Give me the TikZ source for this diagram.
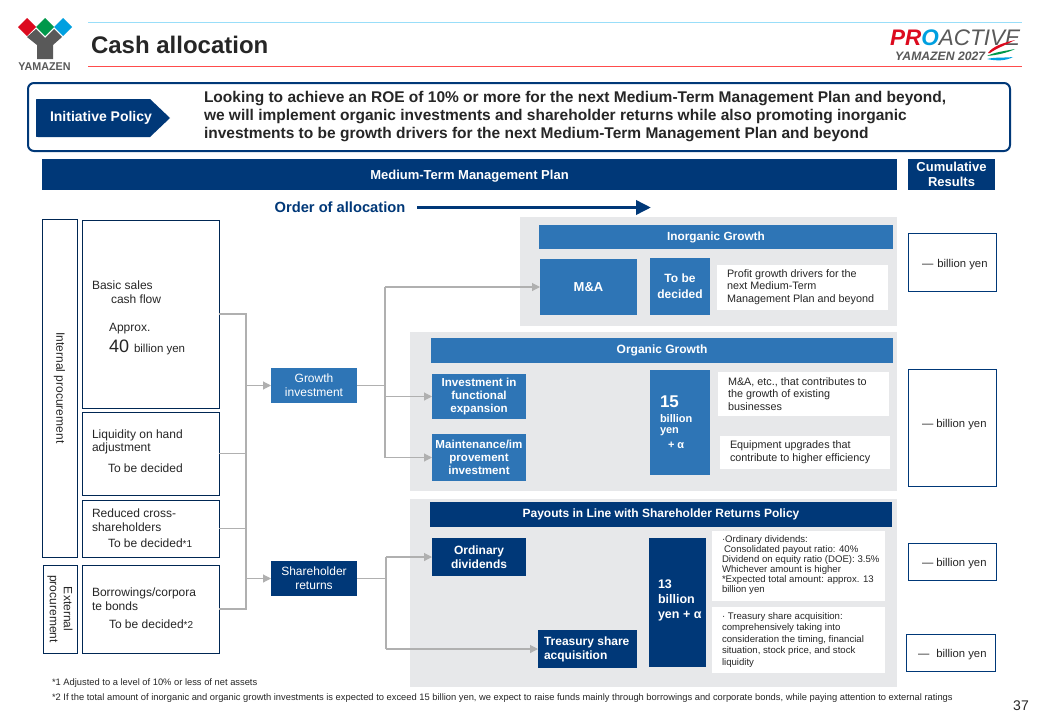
\documentclass[tikz,border=0pt]{standalone}
\usepackage{fontspec}
\setmainfont{Liberation Sans}
\usepackage{tikz}
\usetikzlibrary{arrows.meta}
\definecolor{navy}{HTML}{003878}
\definecolor{midblue}{HTML}{2E75B6}
\definecolor{panelgray}{HTML}{E7E8EA}
\definecolor{linegray}{HTML}{B0B0B0}
\definecolor{inkgray}{HTML}{262626}
\definecolor{logored}{HTML}{DC0A1E}
\definecolor{logogreen}{HTML}{00984A}
\definecolor{logoblue}{HTML}{00A0E0}
\definecolor{logogray}{HTML}{595959}
\newcommand{\fs}[2]{\fontsize{#1}{#2}\selectfont}
\tikzset{
	block/.style 2 args={rectangle,inner sep=0pt,outer sep=0pt,minimum width=#1,minimum height=#2,align=center},
	panel/.style 2 args={block={#1}{#2},fill=panelgray},
	navybox/.style 2 args={block={#1}{#2},fill=navy,text=white},
	bluebox/.style 2 args={block={#1}{#2},fill=midblue,text=white},
	whitebox/.style 2 args={block={#1}{#2},fill=white},
	srcbox/.style 2 args={block={#1}{#2},draw=navy!70!black,line width=0.8pt,fill=white,text=inkgray},
	sumbox/.style 2 args={block={#1}{#2},draw=navy,line width=0.8pt,fill=white},
	label/.style={inner sep=0pt,outer sep=0pt,align=left,anchor=west,text=inkgray},
	whitelabel/.style={label,text=white},
	turned/.style={rotate=-90,inner sep=0pt,align=center,text=inkgray},
	link/.style={draw=linegray,line width=1.1pt},
	linkarrow/.style={link,-{Triangle[length=8pt,width=8pt,fill=linegray]}}
}

\begin{document}
\begin{tikzpicture}[x=1pt,y=-1pt]
	\useasboundingbox (0,0) rectangle (1040,720);
	\fill[white] (0,0) rectangle (1040,720);

	\fill[logored] (27,18) -- (36,27) -- (27,36) -- (18,27) -- cycle;
	\fill[logogreen] (45,18) -- (54,27) -- (45,36) -- (36,27) -- cycle;
	\fill[logoblue] (63,18) -- (72,27) -- (63,36) -- (54,27) -- cycle;
	\fill[logogray] (27,37) -- (36,29) -- (45,38) -- (54,29) -- (62,37) -- (53,45) -- (53,59) -- (37,59) -- (37,45) -- cycle;
	\node[inner sep=0pt,text=logogray,font=\fs{11.3}{12}\addfontfeature{FakeStretch=0.95}\bfseries] (brand) at (44.5,66.5) {YAMAZEN};

	\draw[cyan!40!white,line width=1pt] (88,22) -- (1022,22);
	\draw[red!70!white,line width=0.8pt] (88,66) -- (1022,66);
	\node[label,font=\fs{24}{26}\bfseries] (title) at (91,45) {Cash allocation};

	\node[inner sep=0pt,anchor=west,font=\fs{22.5}{24}\bfseries\itshape] (proactive) at (890,37.5) {\textcolor{logored}{PR}\textcolor{logoblue}{O}\textcolor{logogray}{\mdseries ACTIVE}};
	\node[inner sep=0pt,anchor=west,text=logogray,font=\fs{12.2}{13}\bfseries\itshape] (proyear) at (895,56.5) {YAMAZEN 2027};
	\fill[logored] (988,53) .. controls (993,46) and (1003,43) .. (1015,40) .. controls (1006,45) and (997,48) .. (990,53) -- cycle;
	\fill[logogreen] (987,56) .. controls (995,52) and (1005,51) .. (1015,49) .. controls (1007,53) and (997,55) .. (987,56) -- cycle;
	\fill[logoblue] (987,59) .. controls (995,57) and (1004,58) .. (1013,57) .. controls (1006,61) and (996,61) .. (987,59) -- cycle;

	\draw[navy,line width=2pt,rounded corners=6pt] (28,83) rectangle (1010,151);
	\fill[navy] (38,99) -- (150,99) -- (170,118) -- (150,137) -- (38,137) .. controls (36,137) .. (36,135) -- (36,101) .. controls (36,99) .. (38,99) -- cycle;
	\node[text=white,inner sep=0pt,font=\fs{14}{16}\bfseries] (policytag) at (101,118) {Initiative Policy};
	\node[label,font=\fs{15.5}{18}\bfseries] (policy) at (204,117) {Looking to achieve an ROE of 10\% or more for the next Medium-Term Management Plan and beyond,\\we will implement organic investments and shareholder returns while also promoting inorganic\\investments to be growth drivers for the next Medium-Term Management Plan and beyond};

	\node[navybox={855pt}{31pt},font=\fs{13}{15}\bfseries,text height=12pt,text depth=3pt] (planbar) at (469.5,174.5) {Medium-Term Management Plan};
	\node[navybox={87pt}{31pt},font=\fs{13}{15}\bfseries] (resultbar) at (951.5,174.5) {Cumulative\\Results};

	\node[inner sep=0pt,text=navy,font=\fs{14.7}{16}\bfseries] (order) at (340,207) {Order of allocation};
	\coordinate (orderstart) at (417,207.5);
	\coordinate (orderend) at (651,207.5);
	\draw[navy,line width=3.5pt,-{Triangle[length=15pt,width=14pt]}] (orderstart) -- (orderend);

	\node[srcbox={35pt}{338pt}] (internal) at (59.5,388) {};
	\node[turned,font=\fs{12}{14}] at (internal) {Internal procurement};
	\node[srcbox={34pt}{88pt}] (external) at (60,609) {};
	\node[turned,font=\fs{12}{14}] at (external) {External\\procurement};

	\node[srcbox={137pt}{188pt}] (basic) at (150.5,314) {};
	\node[label,font=\fs{12}{14}] at (92,285.5) {Basic sales};
	\node[label,font=\fs{12}{14}] at (111,299.5) {cash flow};
	\node[label,font=\fs{12}{14}] at (109,329) {Approx.};
	\node[label,font=\fs{18}{20}] at (109,347) {40 \fs{11.5}{14}billion yen};
	\node[srcbox={137pt}{83pt}] (liquidity) at (150.5,453.5) {};
	\node[label,font=\fs{12}{13}] at (92,441.5) {Liquidity on hand\\adjustment};
	\node[label,font=\fs{12}{14}] at (108,468.5) {To be decided};
	\node[srcbox={137pt}{57pt}] (crossheld) at (150.5,528.5) {};
	\node[label,font=\fs{12}{14}] at (92,520.5) {Reduced cross-\\shareholders};
	\node[label,font=\fs{12}{14}] at (108,543.5) {To be decided\fs{10}{14}*1};
	\node[srcbox={137pt}{88pt}] (borrowing) at (150.5,609) {};
	\node[label,font=\fs{12}{13.5}] at (92,599) {Borrowings/corpora\\te bonds};
	\node[label,font=\fs{12}{14}] at (109,624.5) {To be decided\fs{10}{14}*2};

	\node[panel={377pt}{109pt}] (inorganic) at (708.5,271.5) {};
	\node[panel={487pt}{159pt}] (organic) at (653.5,411.5) {};
	\node[panel={487pt}{188pt}] (payout) at (653.5,593) {};

	\node[bluebox={86pt}{35pt},font=\fs{12}{14}] (growth) at (314,385.5) {Growth\\investment};
	\node[navybox={86pt}{35pt},font=\fs{12}{14}] (returns) at (314,578.5) {Shareholder\\returns};

	\node[bluebox={354pt}{24pt},font=\fs{11.8}{13}\bfseries] (inorganichead) at (716,237) {Inorganic Growth};
	\node[bluebox={97pt}{56pt},font=\fs{13}{15}\bfseries] (mna) at (588.5,287) {M\&A};
	\node[bluebox={60pt}{57pt},font=\fs{12}{16}\bfseries] (tbd) at (680,286.5) {To be\\decided};
	\node[whitebox={171pt}{45pt}] (profit) at (802.5,287.5) {};
	\node[label,font=\fs{10.8}{12.5}] at (727,287) {Profit growth drivers for the\\next Medium-Term\\Management Plan and beyond};
	\node[sumbox={88pt}{58pt}] (suminorganic) at (952,262) {};
	\node[label,font=\fs{11.3}{12}] at (922,265) {—\hspace{4pt}billion yen};

	\node[bluebox={462pt}{25pt},font=\fs{12}{13}\bfseries] (organichead) at (662,350.5) {Organic Growth};
	\node[bluebox={94pt}{45pt},font=\fs{11.6}{13}\bfseries] (functional) at (479,396.5) {Investment in\\functional\\expansion};
	\node[bluebox={94pt}{47pt},font=\fs{11.6}{13}\bfseries] (upkeep) at (479,457.5) {Maintenance/im\\provement\\investment};
	\node[bluebox={60pt}{105pt}] (fifteen) at (680,422.5) {};
	\node[whitelabel,font=\fs{17}{18}\bfseries] at (660,402) {15};
	\node[whitelabel,font=\fs{11}{13}\bfseries] at (660,419) {billion};
	\node[whitelabel,font=\fs{11}{13}\bfseries] at (660,432) {yen};
	\node[whitelabel,font=\fs{11}{13}\bfseries] at (668,445) {+ α};
	\node[whitebox={171pt}{44pt}] (existing) at (803.5,394) {};
	\node[label,font=\fs{10.8}{12.5}] at (728,394) {M\&A, etc., that contributes to\\the growth of existing\\businesses};
	\node[whitebox={170pt}{33pt}] (equipment) at (805,452.5) {};
	\node[label,font=\fs{10.8}{12.5}] at (730,452) {Equipment upgrades that\\contribute to higher efficiency};
	\node[sumbox={88pt}{117pt}] (sumorganic) at (952,427.5) {};
	\node[label,font=\fs{11.3}{12}] at (922,424.5) {—\hspace{3pt}billion yen};

	\node[navybox={462pt}{25pt},font=\fs{12}{13}\bfseries] (payouthead) at (661,514.5) {Payouts in Line with Shareholder Returns Policy};
	\node[navybox={94pt}{38pt},font=\fs{12}{14}\bfseries] (ordinary) at (479,557) {Ordinary\\dividends};
	\node[navybox={99pt}{38pt}] (treasury) at (587.5,649) {};
	\node[whitelabel,font=\fs{12}{14}\bfseries] at (544,649) {Treasury share\\acquisition};
	\node[navybox={57pt}{129pt}] (thirteen) at (677.5,602.5) {};
	\node[whitelabel,font=\fs{12.5}{15}\bfseries] at (658,600.5) {13\\billion\\yen + α};
	\node[whitebox={173pt}{70pt}] (dividendnote) at (798.5,566) {};
	\node[label,font=\fs{9.6}{10}] at (722,565.5) {·Ordinary dividends:\\\hspace{2pt}Consolidated payout ratio: 40\%\\Dividend on equity ratio (DOE): 3.5\%\\Whichever amount is higher\\*Expected total amount: approx. 13\\billion yen};
	\node[whitebox={173pt}{66pt}] (treasurynote) at (798.5,640) {};
	\node[label,font=\fs{9.6}{11.5}] at (722,640) {· Treasury share acquisition:\\comprehensively taking into\\consideration the timing, financial\\situation, stock price, and stock\\liquidity};
	\node[sumbox={88pt}{37pt}] (sumordinary) at (952,561.5) {};
	\node[label,font=\fs{11.3}{12}] at (922,564) {—\hspace{3pt}billion yen};
	\node[sumbox={89pt}{37pt}] (sumtreasury) at (950.5,652.5) {};
	\node[label,font=\fs{11.3}{12}] at (918,655) {—\hspace{7pt}billion yen};

	\coordinate (bustop) at (246,314);
	\coordinate (busbottom) at (246,609);
	\coordinate (forkgrowth) at (385,385.5);
	\coordinate (forkreturns) at (386,578.5);
	\draw[link] (basic.east) -- (bustop) -- (busbottom) -- (borrowing.east);
	\draw[link] (liquidity.east) -- (liquidity.east -| bustop);
	\draw[link] (crossheld.east) -- (crossheld.east -| bustop);
	\draw[linkarrow] (growth.west -| bustop) -- (growth.west);
	\draw[linkarrow] (returns.west -| bustop) -- (returns.west);
	\draw[link] (growth.east) -- (forkgrowth);
	\draw[link] (mna.west -| forkgrowth) -- (upkeep.west -| forkgrowth);
	\draw[linkarrow] (mna.west -| forkgrowth) -- (mna.west);
	\draw[linkarrow] (functional.west -| forkgrowth) -- (functional.west);
	\draw[linkarrow] (upkeep.west -| forkgrowth) -- (upkeep.west);
	\draw[link] (returns.east) -- (forkreturns);
	\draw[link] (ordinary.west -| forkreturns) -- (treasury.west -| forkreturns);
	\draw[linkarrow] (ordinary.west -| forkreturns) -- (ordinary.west);
	\draw[linkarrow] (treasury.west -| forkreturns) -- (treasury.west);

	\node[label,font=\fs{9.35}{11}] (noteone) at (52,683) {*1 Adjusted to a level of 10\% or less of net assets};
	\node[label,font=\fs{9.35}{11}] (notetwo) at (52,698) {*2 If the total amount of inorganic and organic growth investments is expected to exceed 15 billion yen, we expect to raise funds mainly through borrowings and corporate bonds, while paying attention to external ratings};
	\node[inner sep=0pt,text=inkgray,font=\fs{14}{16}] (pagenum) at (1021,706) {37};
\end{tikzpicture}
\end{document}
